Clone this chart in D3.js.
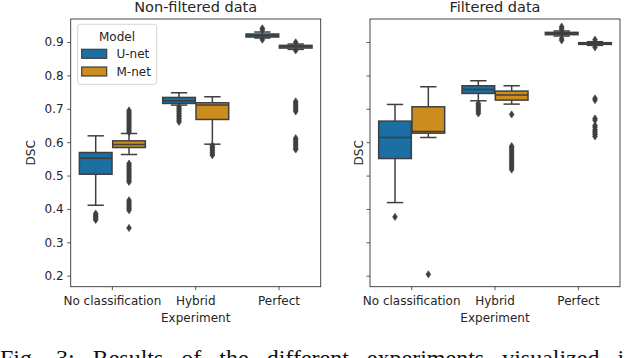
<!DOCTYPE html>
<html><head><meta charset="utf-8">
<script src="https://cdn.jsdelivr.net/npm/d3@7"></script>
<style>
body{margin:0;background:#fff}
svg{display:block}
</style>
</head><body><svg id="c" width="640" height="358"></svg>
<script>
// ---------- data ----------
const experiments = ["No classification", "Hybrid", "Perfect"];
const models = ["U-net", "M-net"];
const panelTitles = ["Non-filtered data", "Filtered data"];
const yTicks = [0.2, 0.3, 0.4, 0.5, 0.6, 0.7, 0.8, 0.9];
const modelColors = ["#1b6fa2", "#cc8c1e"];

// box statistics per experiment: [lower whisker, Q1, median, Q3, upper whisker]
const nonFilteredUnet = [[0.411, 0.504, 0.552, 0.569, 0.619], [0.711, 0.716, 0.724, 0.734, 0.748], [0.912, 0.915, 0.920, 0.924, 0.930]];
const nonFilteredMnet = [[0.563, 0.584, 0.593, 0.604, 0.626], [0.594, 0.668, 0.711, 0.718, 0.736], [0.878, 0.882, 0.886, 0.890, 0.894]];
const filteredUnet    = [[0.419, 0.551, 0.614, 0.663, 0.713], [0.724, 0.746, 0.758, 0.769, 0.784], [0.918, 0.922, 0.926, 0.929, 0.933]];
const filteredMnet    = [[0.614, 0.627, 0.632, 0.706, 0.766], [0.714, 0.726, 0.741, 0.753, 0.769], [0.890, 0.893, 0.896, 0.898, 0.901]];

// outliers per experiment
const nonFilteredUnetOut = [
  [0.386, 0.382, 0.378, 0.374, 0.370, 0.367],
  [0.706, 0.701, 0.696, 0.691, 0.686, 0.681, 0.676, 0.671, 0.666, 0.661],
  [0.941, 0.936, 0.907]
];
const nonFilteredMnetOut = [
  [0.695, 0.690, 0.685, 0.680, 0.675, 0.670, 0.665, 0.660, 0.655, 0.650, 0.645, 0.640, 0.635, 0.630,
   0.536, 0.531, 0.526, 0.521, 0.516, 0.511, 0.506, 0.501, 0.496, 0.491, 0.486, 0.481,
   0.426, 0.421, 0.416, 0.411, 0.406, 0.401, 0.396, 0.343],
  [0.590, 0.585, 0.580, 0.575, 0.570, 0.565, 0.561],
  [0.899, 0.875, 0.722, 0.717, 0.712, 0.707, 0.702, 0.697, 0.692, 0.612, 0.607, 0.602, 0.597, 0.592, 0.587, 0.582, 0.578]
];
const filteredUnetOut = [
  [0.376],
  [0.716, 0.711, 0.706, 0.701, 0.696, 0.691, 0.686],
  [0.946, 0.941, 0.936, 0.910, 0.905]
];
const filteredMnetOut = [
  [0.204],
  [0.683, 0.588, 0.583, 0.578, 0.573, 0.568, 0.563, 0.558, 0.553, 0.548, 0.543, 0.538, 0.533, 0.528, 0.523, 0.518],
  [0.907, 0.884, 0.731, 0.726, 0.671, 0.666, 0.650, 0.645, 0.638, 0.633, 0.628, 0.623, 0.617]
];

const panels = [
  { title: panelTitles[0], stats: [nonFilteredUnet, nonFilteredMnet], out: [nonFilteredUnetOut, nonFilteredMnetOut], x0: 70.7, x1: 320.7, labels: true },
  { title: panelTitles[1], stats: [filteredUnet, filteredMnet], out: [filteredUnetOut, filteredMnetOut], x0: 370, x1: 620, labels: false }
];

// ---------- drawing ----------
const svg = d3.select("#c");
const FONT = "'DejaVu Sans', sans-serif";
const edge = "#3f3f3f";
const plotTop = 19, plotBottom = 286.7;
const y = d3.scaleLinear().domain([0.167, 0.969]).range([plotBottom, plotTop]);
const diamond = "M0,-3.6L2.4,0L0,3.6L-2.4,0Z";

panels.forEach(p => {
  const g = svg.append("g");
  const x = d3.scaleBand().domain(experiments).range([p.x0, p.x1]).paddingInner(0).paddingOuter(0);
  const bw = x.bandwidth();
  const boxW = bw * 0.392;

  // y axis
  const ya = g.append("g").attr("transform", `translate(${p.x0},0)`)
    .call(d3.axisLeft(y).tickValues(yTicks).tickSize(3.5).tickPadding(3.5)
      .tickFormat(p.labels ? d3.format(".1f") : () => ""));
  ya.select(".domain").remove();
  ya.selectAll("line").attr("stroke", "#333").attr("stroke-width", 0.8);
  ya.selectAll("text").attr("font-family", FONT).attr("font-size", 12).attr("fill", "#262626");

  // x axis
  const xa = g.append("g").attr("transform", `translate(0,${plotBottom})`)
    .call(d3.axisBottom(x).tickSize(3.5).tickPadding(6));
  xa.select(".domain").remove();
  xa.selectAll("line").attr("stroke", "#333").attr("stroke-width", 0.8);
  xa.selectAll("text").attr("font-family", FONT).attr("font-size", 12).attr("fill", "#262626");

  // boxes
  models.forEach((m, mi) => {
    const off = (mi === 0 ? -0.2 : 0.2) * bw;
    experiments.forEach((e, ei) => {
      const [lo, q1, med, q3, hi] = p.stats[mi][ei];
      const cx = x(e) + bw / 2 + off;
      const bg = g.append("g");
      bg.append("line").attr("x1", cx).attr("x2", cx).attr("y1", y(q3)).attr("y2", y(hi))
        .attr("stroke", edge).attr("stroke-width", 1.5);
      bg.append("line").attr("x1", cx).attr("x2", cx).attr("y1", y(q1)).attr("y2", y(lo))
        .attr("stroke", edge).attr("stroke-width", 1.5);
      [lo, hi].forEach(v => bg.append("line")
        .attr("x1", cx - boxW / 4).attr("x2", cx + boxW / 4).attr("y1", y(v)).attr("y2", y(v))
        .attr("stroke", edge).attr("stroke-width", 1.5));
      bg.append("rect").attr("x", cx - boxW / 2).attr("width", boxW)
        .attr("y", y(q3)).attr("height", Math.max(0.5, y(q1) - y(q3)))
        .attr("fill", modelColors[mi]).attr("stroke", edge).attr("stroke-width", 1.5);
      bg.append("line").attr("x1", cx - boxW / 2).attr("x2", cx + boxW / 2).attr("y1", y(med)).attr("y2", y(med))
        .attr("stroke", edge).attr("stroke-width", 1.5);
      bg.selectAll("path.fl").data(p.out[mi][ei]).join("path").attr("class", "fl")
        .attr("d", diamond).attr("transform", v => `translate(${cx},${y(v)})`)
        .attr("fill", edge).attr("stroke", edge).attr("stroke-width", 0.6);
    });
  });

  // frame
  g.append("rect").attr("x", p.x0).attr("y", plotTop).attr("width", p.x1 - p.x0).attr("height", plotBottom - plotTop)
    .attr("fill", "none").attr("stroke", "#333").attr("stroke-width", 0.9);

  // title
  g.append("text").attr("x", (p.x0 + p.x1) / 2).attr("y", 11.7).attr("text-anchor", "middle")
    .attr("font-family", FONT).attr("font-size", 14.5).attr("fill", "#262626").text(p.title);
  // x label
  g.append("text").attr("x", (p.x0 + p.x1) / 2).attr("y", 322).attr("text-anchor", "middle")
    .attr("font-family", FONT).attr("font-size", 12).attr("fill", "#262626").text("Experiment");
  // y label
  const ylx = p.labels ? 34.5 : 362.5;
  g.append("text").attr("transform", `translate(${ylx},${(plotTop + plotBottom) / 2}) rotate(-90)`)
    .attr("text-anchor", "middle").attr("font-family", FONT).attr("font-size", 12).attr("fill", "#262626").text("DSC");
});

// legend (left panel)
const lg = svg.append("g");
lg.append("rect").attr("x", 77.7).attr("y", 24.3).attr("width", 79).attr("height", 60).attr("rx", 2.5)
  .attr("fill", "#fff").attr("fill-opacity", 0.8).attr("stroke", "#d0d0d0").attr("stroke-width", 0.9);
lg.append("text").attr("x", 117).attr("y", 41).attr("text-anchor", "middle")
  .attr("font-family", FONT).attr("font-size", 12).attr("fill", "#262626").text("Model");
models.forEach((m, i) => {
  lg.append("rect").attr("x", 81.7).attr("y", 49.3 + i * 17.7).attr("width", 25).attr("height", 9)
    .attr("fill", modelColors[i]).attr("stroke", edge).attr("stroke-width", 1.2);
  lg.append("text").attr("x", 116.5).attr("y", 58.3 + i * 17.7)
    .attr("font-family", FONT).attr("font-size", 12).attr("fill", "#262626").text(m);
});

// caption (cut at bottom of the picture, as in the reference)
svg.append("text").attr("x", 0).attr("y", 365.5)
  .attr("font-family", "'Liberation Serif', serif").attr("font-size", 24).attr("fill", "#111")
  .attr("word-spacing", 12)
  .text("Fig. 3:  Results of the different experiments visualized i");
</script>
</body></html>
